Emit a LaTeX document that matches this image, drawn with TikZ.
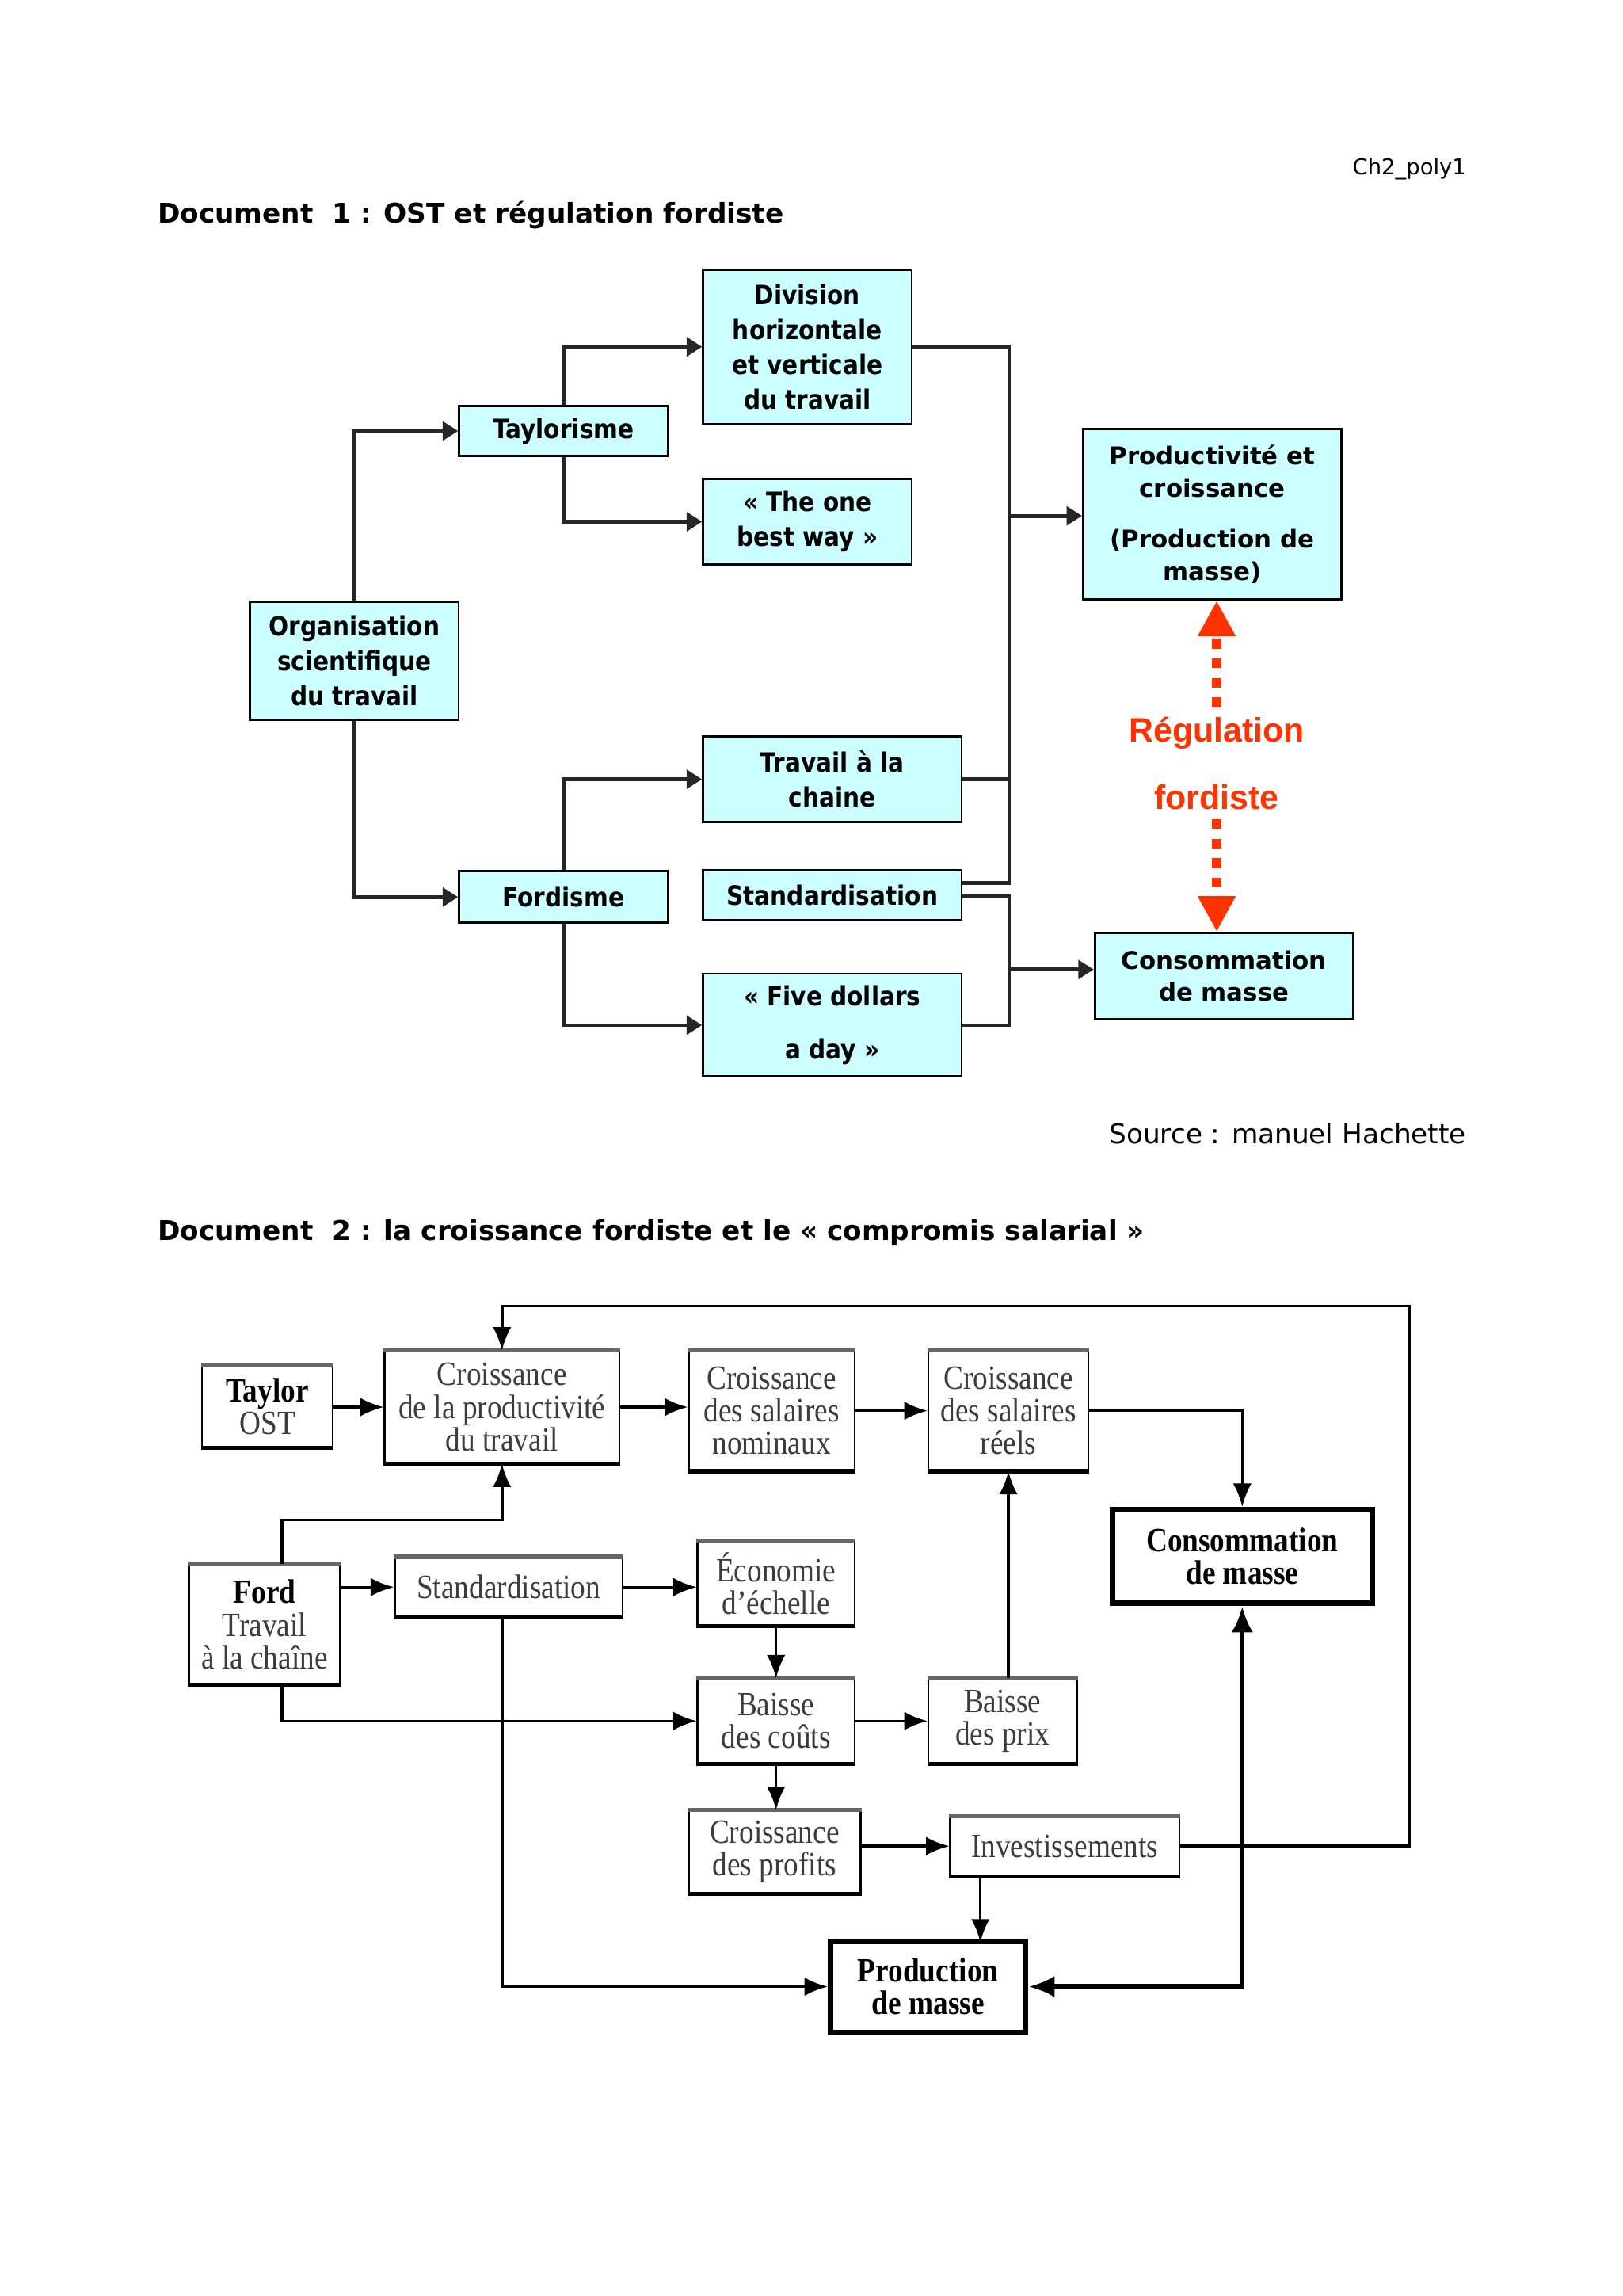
\documentclass[tikz,border=0pt]{standalone}
\usepackage{fontspec}
\setmainfont{DejaVu Sans}
\newfontfamily\boxfont[FakeStretch=0.88]{DejaVu Sans}
\newfontfamily\serif[FakeStretch=0.87]{Liberation Serif}
\newfontfamily\arialfont{Liberation Sans}
\usepackage{tikz}
\usetikzlibrary{positioning, calc, arrows.meta}

\definecolor{boxcyan}{HTML}{CCFFFF}
\definecolor{regred}{HTML}{FF3300}
\definecolor{txtgray}{HTML}{3C3C3C}

% one unit of the picture
\newcommand{\pxw}{0.1900mm}

\tikzset{
  dims/.style 2 args={minimum width=#1*\pxw, minimum height=#2*\pxw},
  plain/.style={inner sep=0pt},
  box/.style={draw=black, line width=0.8pt, fill=boxcyan, align=center, inner sep=0pt,
    font=\boxfont\bfseries\fontsize{9.8}{12.8}\selectfont},
  widebox/.style={box, font=\bfseries\fontsize{9}{11.9}\selectfont},
  link/.style={draw=black!85, line width=1.4pt},
  arr/.style={link, -{Triangle[length=2mm,width=2.4mm]}},
  regarrow/.style={draw=regred, line width=3.6pt, dash pattern=on 3.6pt off 3.6pt,
    -{Triangle[length=4.6mm,width=4.6mm]}},
  box2/.style={draw=black, line width=0.7pt, fill=white, align=center, inner sep=0pt,
    text=txtgray, font=\serif\fontsize{12.5}{12}\selectfont},
  bigbox2/.style={box2, line width=2pt, text=black, font=\serif\bfseries\fontsize{12.5}{12}\selectfont},
  arr2/.style={draw=black, line width=1pt, -{Latex[length=3mm,width=2.4mm]}}
}

\begin{document}
\begin{tikzpicture}[x=0.18913mm, y=-0.18934mm]
        % the page
        \fill[white] (-1.5,-0.5) rectangle (1108.8,1568.4);
        \useasboundingbox (-1.5,-0.5) rectangle (1108.8,1568.4);

        \node[plain, anchor=base east, font=\fontsize{8}{10}\selectfont] (tag) at (1002,119) {Ch2\_poly1};
        \node[plain, anchor=base west, font=\bfseries\fontsize{10}{12}\selectfont] (doc1) at (106,152)
            {Document\ \ 1 : OST et régulation fordiste};

        % document 1
        \node[box, dims={142}{105}] (div)    at (551,236.5) {Division\\horizontale\\et verticale\\du travail};
        \node[box, dims={142}{34}]  (tay)    at (384,294)   {Taylorisme};
        \node[box, dims={142}{58}]  (best)   at (551,356)   {« The one\\best way »};
        \node[box, dims={142}{80}]  (ost)    at (241,451)   {Organisation\\scientifique\\du travail};
        \node[widebox, dims={176}{116}] (prod) at (828,351) {Productivité et\\croissance\\[7pt](Production de\\masse)};
        \node[box, dims={176}{58}]  (chaine) at (568,532)   {Travail à la\\chaine};
        \node[box, dims={176}{34}]  (std)    at (568,611)   {Standardisation};
        \node[box, dims={142}{35}]  (ford)   at (384,612.5) {Fordisme};
        \node[box, dims={176}{70}]  (five)   at (568,700)   {« Five dollars\\[6.7pt]a day »};
        \node[widebox, dims={176}{59}] (conso) at (836,666.5) {Consommation\\de masse};

        \draw[arr] (ost.north) |- (tay.west);
        \draw[arr] (ost.south) |- (ford.west);
        \draw[arr] (tay.north) |- (div.west);
        \draw[arr] (tay.south) |- (best.west);
        \draw[arr] (ford.north) |- (chaine.west);
        \draw[arr] (ford.south) |- (five.west);

        % the two collectors
        \coordinate (upbus)  at (689,352);
        \coordinate (lowbus) at (689,662);
        \draw[link] (div.east) -| (upbus);
        \draw[link] (chaine.east) -| (upbus);
        \draw[link] ($(std.east)+(0,-8)$) -| (upbus);
        \draw[arr] (upbus) -- (upbus -| prod.west);
        \draw[link] ($(std.east)+(0,1)$) -| (lowbus);
        \draw[link] (five.east) -| (lowbus);
        \draw[arr] (lowbus) -- (lowbus -| conso.west);

        % regulation
        \node[font=\arialfont\bfseries\fontsize{12.5}{24.9}\selectfont, text=regred, align=center] (reg)
            at (831,521) {Régulation\\fordiste};
        \draw[regarrow] (reg.north) -- (reg.north |- prod.south);
        \draw[regarrow] (reg.south) -- (reg.south |- conso.north);

        \node[plain, anchor=base east, font=\fontsize{10}{12}\selectfont] (src) at (1002,781) {Source : manuel Hachette};
        \node[plain, anchor=base west, font=\bfseries\fontsize{10}{12}\selectfont] (doc2) at (106,847)
            {Document\ \ 2 : la croissance fordiste et le « compromis salarial »};

        % document 2
        \node[box2, dims={89}{55}]   (taylor) at (181.5,960.5) {{\color{black}\bfseries Taylor}\\OST};
        \node[box2, dims={160}{76}]  (cprod)  at (342,961)     {Croissance\\de la productivité\\du travail};
        \node[box2, dims={113}{81}]  (nomin)  at (526.5,963.5) {Croissance\\des salaires\\nominaux};
        \node[box2, dims={109}{81}]  (reels)  at (688.5,963.5) {Croissance\\des salaires\\réels};
        \node[bigbox2, dims={177}{64}] (cons2) at (848.5,1063) {Consommation\\de masse};
        \node[box2, dims={103}{81}]  (fordb)  at (179.5,1109.5) {{\color{black}\bfseries Ford}\\Travail\\à la chaîne};
        \node[box2, dims={155}{40}]  (std2)   at (346.5,1084)  {Standardisation};
        \node[box2, dims={107}{57}]  (eco)    at (529.5,1081.5) {Économie\\d’échelle};
        \node[box2, dims={107}{57}]  (bcout)  at (529.5,1175.5) {Baisse\\des coûts};
        \node[box2, dims={101}{57}]  (bprix)  at (684.5,1175.5) {Baisse\\des prix};
        \node[box2, dims={117}{56}]  (profit) at (528.5,1265)  {Croissance\\des profits};
        \node[box2, dims={156}{40}]  (invest) at (727,1261)    {Investissements};
        \node[bigbox2, dims={133}{62}] (prod2) at (633.5,1357) {Production\\de masse};

        % heavy top and bottom edges
        \foreach \n in {taylor, cprod, nomin, reels, fordb, std2, eco, bcout, bprix, profit, invest} {
            \draw[black!60, line width=1.6pt] (\n.north west) -- (\n.north east);
            \draw[line width=1.6pt] (\n.south west) -- (\n.south east);
        }

        \coordinate (loopR) at (963,892);
        \coordinate (kneeF) at (cprod.south |- 0,1038);
        \draw[arr2] (invest.east) -| (loopR) -| (cprod.north);
        \draw[arr2] (taylor.east |- cprod.west) -- (cprod.west);
        \draw[arr2] (cprod.east) -- (cprod.east -| nomin.west);
        \draw[arr2] (nomin.east |- reels.west) -- (reels.west);
        \draw[arr2] (reels.east) -| (cons2.north);
        \draw[arr2] ($(fordb.north)+(12,0)$) |- (kneeF) -- (cprod.south);
        \draw[arr2] (fordb.east |- std2.west) -- (std2.west);
        \draw[arr2] (std2.east) -- (std2.east -| eco.west);
        \draw[arr2] (eco.south) -- (bcout.north);
        \draw[arr2] ($(fordb.south)+(12,0)$) |- (bcout.west);
        \draw[arr2] (std2.south -| kneeF) |- (prod2.west);
        \draw[arr2] (bcout.east) -- (bprix.west);
        \draw[arr2] (reels.south |- bprix.north) -- (reels.south);
        \draw[arr2] (bcout.south) -- (bcout.south |- profit.north);
        \draw[arr2] (profit.east |- invest.west) -- (invest.west);
        \draw[arr2] ($(invest.south west)!0.135!(invest.south east)$) -- ++(0,45);
        \draw[arr2, {Latex[length=3.4mm,width=2.8mm]}-{Latex[length=3.4mm,width=2.8mm]}, line width=1.8pt]
            (prod2.east) -| (cons2.south);
\end{tikzpicture}
\end{document}
